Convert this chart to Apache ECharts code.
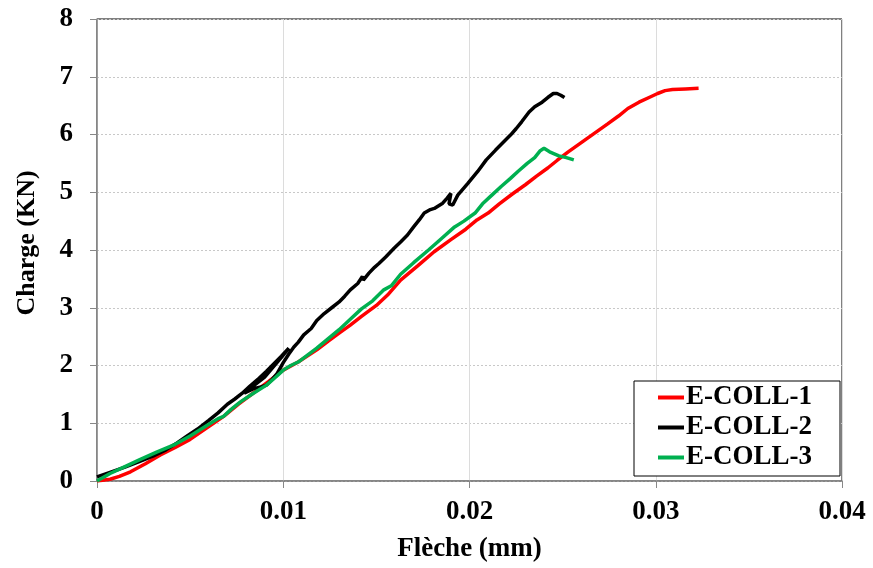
<!DOCTYPE html>
<html>
<head>
<meta charset="utf-8">
<script src="https://cdn.jsdelivr.net/npm/echarts@6/dist/echarts.min.js"></script>
<style>html,body{margin:0;padding:0;background:#fff}#c{width:873px;height:568px}</style>
</head>
<body>
<div id="c"></div>
<script>
var seriesNames = ['E-COLL-1', 'E-COLL-2', 'E-COLL-3'];
var xTicks = [0, 0.01, 0.02, 0.03, 0.04];
var yTicks = [0, 1, 2, 3, 4, 5, 6, 7, 8];

var coll1 = [[0,0],[0.0007,0.03],[0.0012,0.08],[0.0018,0.16],[0.0026,0.30],[0.0034,0.45],[0.0042,0.58],[0.0050,0.72],[0.0059,0.92],[0.0068,1.12],[0.0076,1.33],[0.0085,1.55],[0.0092,1.72],[0.0100,1.92],[0.0108,2.06],[0.0118,2.27],[0.0124,2.42],[0.0130,2.56],[0.0136,2.70],[0.0142,2.85],[0.0150,3.04],[0.0156,3.22],[0.0163,3.48],[0.0172,3.72],[0.0181,3.97],[0.0190,4.18],[0.0198,4.36],[0.0204,4.52],[0.0210,4.64],[0.0216,4.80],[0.0223,4.97],[0.0230,5.13],[0.0236,5.28],[0.0242,5.42],[0.0247,5.55],[0.0253,5.70],[0.0260,5.86],[0.0267,6.02],[0.0274,6.18],[0.0280,6.32],[0.0285,6.45],[0.0291,6.56],[0.0297,6.65],[0.0301,6.71],[0.0305,6.76],[0.0309,6.78],[0.0316,6.79],[0.0323,6.80]];

var coll2 = [[0,0.07],[0.0007,0.15],[0.0015,0.24],[0.0023,0.34],[0.0030,0.43],[0.0037,0.54],[0.0043,0.66],[0.0048,0.77],[0.0054,0.90],[0.0060,1.05],[0.0065,1.18],[0.0070,1.33],[0.0074,1.42],[0.0078,1.52],[0.0082,1.64],[0.0087,1.78],[0.0091,1.90],[0.0095,2.03],[0.0099,2.16],[0.0103,2.30],[0.0099,2.14],[0.0090,1.80],[0.0079,1.52],[0.0084,1.60],[0.0088,1.63],[0.0091,1.66],[0.0094,1.76],[0.00967,1.86],[0.0100,2.05],[0.0103,2.20],[0.01057,2.32],[0.0108,2.40],[0.0111,2.53],[0.0115,2.64],[0.0118,2.78],[0.0122,2.90],[0.0126,3.00],[0.0130,3.10],[0.0133,3.20],[0.0136,3.31],[0.0140,3.42],[0.01425,3.54],[0.0143,3.48],[0.0146,3.60],[0.0149,3.70],[0.01515,3.77],[0.0155,3.88],[0.01595,4.03],[0.0163,4.14],[0.01667,4.26],[0.0170,4.40],[0.0173,4.52],[0.01757,4.64],[0.0179,4.70],[0.01811,4.72],[0.01856,4.81],[0.0188,4.90],[0.0190,4.98],[0.0189,4.80],[0.0191,4.78],[0.01937,4.95],[0.0199,5.15],[0.02044,5.36],[0.0209,5.56],[0.0214,5.73],[0.0218,5.86],[0.0222,5.99],[0.0225,6.10],[0.0228,6.22],[0.0232,6.39],[0.0235,6.48],[0.0239,6.56],[0.0242,6.64],[0.0245,6.71],[0.0247,6.71],[0.0249,6.68],[0.0251,6.64]];

var coll3 = [[0,0],[0.0007,0.13],[0.0015,0.25],[0.0023,0.37],[0.0032,0.50],[0.0041,0.62],[0.0050,0.78],[0.0059,0.96],[0.0065,1.08],[0.0068,1.12],[0.0072,1.24],[0.0077,1.37],[0.0084,1.52],[0.0091,1.66],[0.0096,1.80],[0.0100,1.92],[0.0104,2.00],[0.0108,2.06],[0.0113,2.18],[0.0118,2.30],[0.0124,2.46],[0.0130,2.62],[0.0136,2.80],[0.0142,2.98],[0.0148,3.12],[0.0154,3.31],[0.0158,3.38],[0.0163,3.58],[0.0170,3.78],[0.0178,4.00],[0.0185,4.20],[0.0192,4.40],[0.0197,4.50],[0.0203,4.64],[0.0207,4.80],[0.0212,4.95],[0.0217,5.10],[0.0222,5.24],[0.0226,5.36],[0.0231,5.50],[0.0235,5.60],[0.0238,5.72],[0.0240,5.76],[0.0243,5.70],[0.0248,5.63],[0.0252,5.60],[0.0256,5.56]];

var colors = ['#ff0000', '#000000', '#00b050'];
var FONT = 'Liberation Serif';

var chart = echarts.init(document.getElementById('c'));
chart.setOption({
  animation: false,
  backgroundColor: '#fff',
  grid: { left: 97, right: 31, top: 19, bottom: 87, show: true, borderColor: '#000', borderWidth: 1, containLabel: false },
  legend: {
    data: seriesNames,
    orient: 'vertical',
    left: 634, top: 381,
    padding: [3, 28, 5, 24],
    itemGap: 3,
    itemWidth: 26, itemHeight: 4,
    icon: 'rect',
    backgroundColor: '#fff',
    borderColor: '#000', borderWidth: 1,
    textStyle: { fontFamily: FONT, fontWeight: 'bold', fontSize: 27, color: '#000', padding: [0, 0, 0, -3] }
  },
  xAxis: {
    type: 'value', min: xTicks[0], max: xTicks[xTicks.length - 1], interval: 0.01,
    name: 'Flèche (mm)', nameLocation: 'middle', nameGap: 55,
    nameTextStyle: { fontFamily: FONT, fontWeight: 'bold', fontSize: 27, color: '#000' },
    axisLine: { show: true, onZero: false, lineStyle: { color: '#888', width: 1.5 } },
    axisTick: { show: true, inside: false, length: 7, lineStyle: { color: '#888' } },
    axisLabel: { margin: 18, fontFamily: FONT, fontWeight: 'bold', fontSize: 27, color: '#000',
      formatter: function (v) { return String(+v.toFixed(2)); } },
    splitLine: { show: true, lineStyle: { color: '#dcdcdc', width: 1 } }
  },
  yAxis: {
    type: 'value', min: yTicks[0], max: yTicks[yTicks.length - 1], interval: 1,
    name: 'Charge (KN)', nameLocation: 'middle', nameGap: 57, nameRotate: 90,
    nameTextStyle: { fontFamily: FONT, fontWeight: 'bold', fontSize: 26, color: '#000', padding: [0, 0, 0, 14] },
    axisLine: { show: true, onZero: false, lineStyle: { color: '#888', width: 1.5 } },
    axisTick: { show: true, inside: false, length: 7, lineStyle: { color: '#888' } },
    axisLabel: { margin: 24, fontFamily: FONT, fontWeight: 'bold', fontSize: 27, color: '#000' },
    splitLine: { show: true, lineStyle: { color: '#c8c8c8', width: 1, type: [2, 2] } }
  },
  series: [
    { name: seriesNames[0], type: 'line', data: coll1, showSymbol: false, symbol: 'none', lineStyle: { color: colors[0], width: 3.5 }, itemStyle: { color: colors[0] } },
    { name: seriesNames[1], type: 'line', data: coll2, showSymbol: false, symbol: 'none', lineStyle: { color: colors[1], width: 3.5 }, itemStyle: { color: colors[1] } },
    { name: seriesNames[2], type: 'line', data: coll3, showSymbol: false, symbol: 'none', lineStyle: { color: colors[2], width: 3.5 }, itemStyle: { color: colors[2] } }
  ]
});
</script>
</body>
</html>
